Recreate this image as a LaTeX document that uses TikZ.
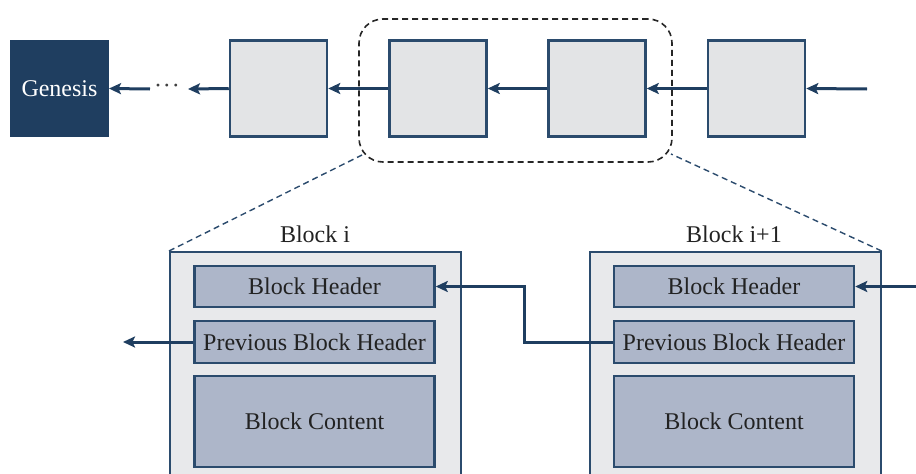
\documentclass[tikz,border=0pt]{standalone}
\usepackage{fontspec}
\setmainfont{Liberation Serif}
\usetikzlibrary{arrows.meta}
\definecolor{navy}{HTML}{1F3E60}
\definecolor{edgec}{HTML}{2B4B6D}
\definecolor{boxfill}{HTML}{E3E4E6}
\definecolor{outerfill}{HTML}{E8E9EB}
\definecolor{innerfill}{HTML}{ADB6C9}
\definecolor{txt}{HTML}{222222}
\tikzset{
  chainbox/.style={draw=edgec, line width=2.5pt, fill=boxfill, minimum width=97pt, minimum height=96pt, inner sep=0pt},
  genbox/.style={draw=navy, line width=1pt, fill=navy, minimum width=98pt, minimum height=96pt, inner sep=0pt, text=white, font=\fontsize{24}{28}\selectfont},
  outerbox/.style={draw=edgec, line width=2.2pt, fill=outerfill, minimum width=291pt, minimum height=250pt, inner sep=0pt},
  innerbox/.style={draw=edgec, line width=2.5pt, fill=innerfill, minimum width=240pt, inner sep=0pt, text=txt, font=\fontsize{24}{28}\selectfont},
  lbl/.style={text=txt, font=\fontsize{24}{28}\selectfont, inner sep=0pt},
  arr/.style={draw=navy, line width=3pt, -{Stealth[length=12pt,width=11pt,inset=2.5pt]}},
  zoomline/.style={draw=edgec, line width=1.4pt, dash pattern=on 6pt off 4pt},
}
\begin{document}
\begin{tikzpicture}[x=1pt,y=-1pt]
\useasboundingbox (0,0) rectangle (916,474);
\clip (0,0) rectangle (916,474);
% top chain
\node[genbox] (gen) at (59.5,88.5) {Genesis};
\node[chainbox] (b1) at (278.5,88.5) {};
\node[chainbox] (b2) at (438,88.5) {};
\node[chainbox] (b3) at (597,88.5) {};
\node[chainbox] (b4) at (756.5,88.5) {};
\node[lbl, text=black!75] (dots) at (167,89) {·\kern1pt·\kern1pt·};
\coordinate (dl) at (150,89);
\coordinate (dr) at (188,89);
\coordinate (rin) at (867,89);
\draw[arr] (dl) -- (gen.east);
\draw[arr] (b1.west) -- (dr);
\draw[arr] (b2.west) -- (b1.east);
\draw[arr] (b3.west) -- (b2.east);
\draw[arr] (b4.west) -- (b3.east);
\draw[arr] (rin) -- (b4.east);
% dashed selection
\node[draw=black!85, line width=1.6pt, dash pattern=on 6pt off 4pt, rounded corners=24pt, minimum width=313pt, minimum height=143pt] (sel) at (515.5,90.5) {};
% bottom blocks
\node[outerbox, anchor=north west] (ob1) at (169,251) {};
\node[outerbox, anchor=north west] (ob2) at (588.5,251) {};
\node[lbl] (t1) at (315,234) {Block i};
\node[lbl] (t2) at (734,234) {Block i+1};
\draw[zoomline] (ob1.north west) -- (362,155);
\draw[zoomline] (ob2.north east) -- (671,154);
\node[innerbox, minimum height=41pt] (bh1) at (314.5,286.5) {Block Header};
\node[innerbox, minimum height=42pt] (pb1) at (314.5,342) {Previous Block Header};
\node[innerbox, minimum height=91pt] (bc1) at (314.5,421.5) {Block Content};
\node[innerbox, minimum height=41pt] (bh2) at (734,286.5) {Block Header};
\node[innerbox, minimum height=42pt] (pb2) at (734,342) {Previous Block Header};
\node[innerbox, minimum height=91pt] (bc2) at (734,421.5) {Block Content};
% bottom arrows
\coordinate (lout) at (123,342);
\coordinate (turn1) at (524,342);
\coordinate (turn2) at (524,286.5);
\coordinate (rin2) at (918,286.5);
\draw[arr] (pb1.west) -- (lout);
\draw[arr] (pb2.west) -- (turn1) -- (turn2) -- (bh1.east);
\draw[arr] (rin2) -- (bh2.east);
\end{tikzpicture}
\end{document}
